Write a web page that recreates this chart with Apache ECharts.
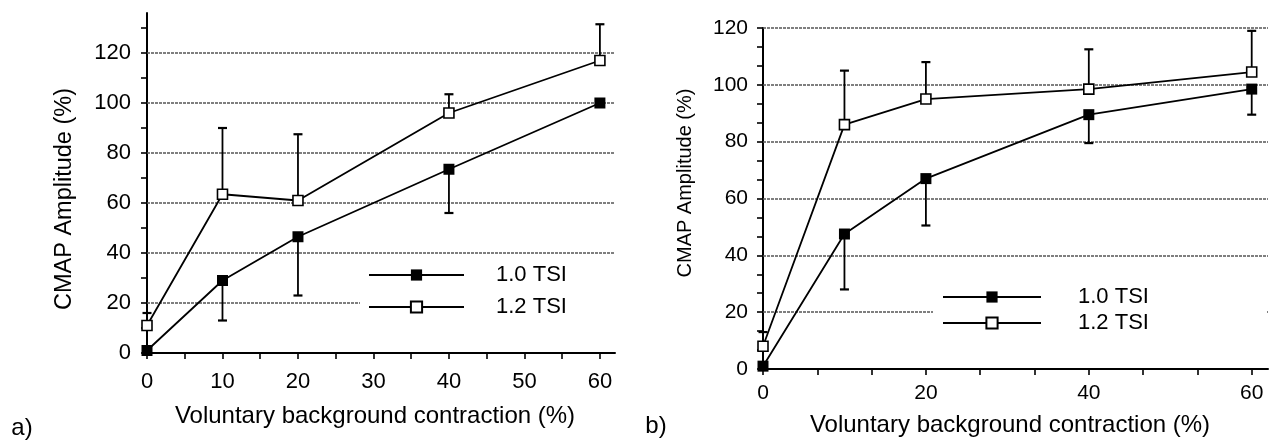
<!DOCTYPE html>
<html>
<head>
<meta charset="utf-8">
<script src="https://cdn.jsdelivr.net/npm/echarts@6/dist/echarts.min.js"></script>
<style>
  html, body { margin: 0; padding: 0; background: #fff; }
  #chart { width: 1280px; height: 442px; }
</style>
</head>
<body>
<div id="chart"></div>
<script>
// Background contraction levels (%) shared by both panels
const contraction = [0, 10, 20, 40, 60];

// Panel a) CMAP amplitude (%) with one-sided error bar ends
const aTsi10 = [1, 29, 46.5, 73.5, 100];
const aTsi10Low = [null, 13, 23, 56, null];
const aTsi12 = [11, 63.5, 61, 96, 117];
const aTsi12High = [16, 90, 87.5, 103.5, 131.5];

// Panel b) CMAP amplitude (%) with one-sided error bar ends
const bTsi10 = [1, 47.5, 67, 89.5, 98.5];
const bTsi10Low = [null, 28, 50.5, 79.5, 89.5];
const bTsi12 = [8, 86, 95, 98.5, 104.5];
const bTsi12High = [13, 105, 108, 112.5, 119];

// Tick labels and tick positions
const aXLabels = [0, 10, 20, 30, 40, 50, 60];
const aXTicks = [0, 5, 10, 15, 20, 25, 30, 35, 40, 45, 50, 55, 60];
const aYLabels = [0, 20, 40, 60, 80, 100, 120];
const aYTicks = [0, 10, 20, 30, 40, 50, 60, 70, 80, 90, 100, 110, 120, 130];
const aGridLines = [20, 40, 60, 80, 100, 120];

const bXLabels = [0, 20, 40, 60];
const bXTicks = [0, 6.67, 13.33, 20, 26.67, 33.33, 40, 46.67, 53.33, 60];
const bYLabels = [0, 20, 40, 60, 80, 100, 120];
const bYTicks = [0, 6.67, 13.33, 20, 26.67, 33.33, 40, 46.67, 53.33, 60,
                 66.67, 73.33, 80, 86.67, 93.33, 100, 106.67, 113.33, 120];
const bGridLines = [20, 40, 60, 80, 100, 120];

const seriesNames = ['1.0 TSI', '1.2 TSI'];

const FONT = '"Liberation Sans", Arial, Helvetica, sans-serif';

function pairs(xs, ys) {
  return xs.map((x, i) => [x, ys[i]]);
}
function errorPairs(xs, ys, ends) {
  const out = [];
  xs.forEach((x, i) => {
    if (ends[i] !== null) out.push([x, ys[i], ends[i]]);
  });
  return out;
}

// Vertical error bar with a cap at its far end
function renderErrorBar(params, api) {
  const x = api.value(0);
  const p0 = api.coord([x, api.value(1)]);
  const p1 = api.coord([x, api.value(2)]);
  const half = 4.5;
  return {
    type: 'group',
    children: [
      { type: 'line', shape: { x1: p0[0], y1: p0[1], x2: p1[0], y2: p1[1] },
        style: { stroke: '#000', lineWidth: 1.8 } },
      { type: 'line', shape: { x1: p1[0] - half, y1: p1[1], x2: p1[0] + half, y2: p1[1] },
        style: { stroke: '#000', lineWidth: 2.2 } }
    ]
  };
}

function xAxisFor(gridIndex, max, ticks, labels, fontSize, margin) {
  return {
    type: 'value', gridIndex, min: 0, max,
    axisLine: { show: true, onZero: false, lineStyle: { color: '#000', width: 2 } },
    axisTick: { show: true, customValues: ticks, length: 6, lineStyle: { color: '#000', width: 1.6 } },
    axisLabel: { customValues: labels, color: '#000', fontSize, fontFamily: FONT, margin },
    splitLine: { show: false }
  };
}
function yAxisFor(gridIndex, max, ticks, labels, fontSize, margin) {
  return {
    type: 'value', gridIndex, min: 0, max,
    axisLine: { show: true, onZero: false, lineStyle: { color: '#000', width: 2 } },
    axisTick: { show: true, customValues: ticks, length: 6, lineStyle: { color: '#000', width: 1.6 } },
    axisLabel: { customValues: labels, color: '#000', fontSize, fontFamily: FONT, margin },
    splitLine: { show: false }
  };
}

function gridMarkLine(values) {
  return {
    silent: true, z: 1, animation: false,
    symbol: ['none', 'none'],
    label: { show: false },
    lineStyle: { color: '#555', type: [3, 1], width: 1.5 },
    data: values.map(v => ({ yAxis: v }))
  };
}

function panelSeries(idx, v10, lo10, v12, hi12, grid) {
  return [
    {
      name: seriesNames[0] + ' error', type: 'custom', xAxisIndex: idx, yAxisIndex: idx,
      z: 2, renderItem: renderErrorBar, encode: { x: 0, y: [1, 2] },
      data: errorPairs(contraction, v10, lo10), silent: true
    },
    {
      name: seriesNames[1] + ' error', type: 'custom', xAxisIndex: idx, yAxisIndex: idx,
      z: 2, renderItem: renderErrorBar, encode: { x: 0, y: [1, 2] },
      data: errorPairs(contraction, v12, hi12), silent: true
    },
    {
      name: seriesNames[0], type: 'line', xAxisIndex: idx, yAxisIndex: idx, z: 3,
      symbol: 'rect', symbolSize: 11,
      itemStyle: { color: '#000' },
      lineStyle: { color: '#000', width: 1.8 },
      data: pairs(contraction, v10)
    },
    {
      name: seriesNames[1], type: 'line', xAxisIndex: idx, yAxisIndex: idx, z: 3,
      symbol: 'rect', symbolSize: 10,
      itemStyle: { color: '#fff', borderColor: '#000', borderWidth: 1.6 },
      lineStyle: { color: '#000', width: 1.8 },
      data: pairs(contraction, v12),
      markLine: gridMarkLine(grid)
    }
  ];
}

function legendFor(left, top, itemWidth, gap, padding, textPad) {
  return {
    data: seriesNames, orient: 'vertical', left, top,
    itemWidth, itemHeight: 14, itemGap: gap,
    padding, backgroundColor: '#fff', selectedMode: false,
    textStyle: { color: '#000', fontSize: 22, fontFamily: FONT, lineHeight: 22, padding: [0, 0, 0, textPad] }
  };
}

function label(text, x, y, size, rotation) {
  return {
    type: 'text', x, y, rotation: rotation || 0, silent: true,
    style: { text, fill: '#000', fontSize: size, fontFamily: FONT, align: 'center', verticalAlign: 'middle' }
  };
}

const chart = echarts.init(document.getElementById('chart'), null, { renderer: 'canvas' });
chart.setOption({
  animation: false,
  backgroundColor: '#fff',
  grid: [
    { left: 147, top: 13, width: 468, height: 340, outerBoundsMode: 'none' },
    { left: 763, top: 28, width: 505, height: 341, outerBoundsMode: 'none' }
  ],
  xAxis: [
    xAxisFor(0, 62, aXTicks, aXLabels, 22, 18),
    xAxisFor(1, 62, bXTicks, bXLabels, 21, 14)
  ],
  yAxis: [
    yAxisFor(0, 136, aYTicks, aYLabels, 22, 16),
    yAxisFor(1, 120, bYTicks, bYLabels, 21, 15)
  ],
  legend: [
    legendFor(360, 260, 95, 10, [4, 49, 4, 8], 27),
    legendFor(933, 282, 98, 4, [4, 118, 4, 9], 32)
  ],
  series: [
    ...panelSeries(0, aTsi10, aTsi10Low, aTsi12, aTsi12High, aGridLines),
    ...panelSeries(1, bTsi10, bTsi10Low, bTsi12, bTsi12High, bGridLines)
  ],
  graphic: [
    label('Voluntary background contraction (%)', 375, 416, 24),
    label('CMAP Amplitude (%)', 65, 199, 23.5, Math.PI / 2),
    label('a)', 22, 428, 24),
    label('Voluntary background contraction (%)', 1010, 425, 24),
    label('CMAP Amplitude (%)', 685, 183, 20, Math.PI / 2),
    label('b)', 656, 426, 24)
  ]
});
</script>
</body>
</html>
